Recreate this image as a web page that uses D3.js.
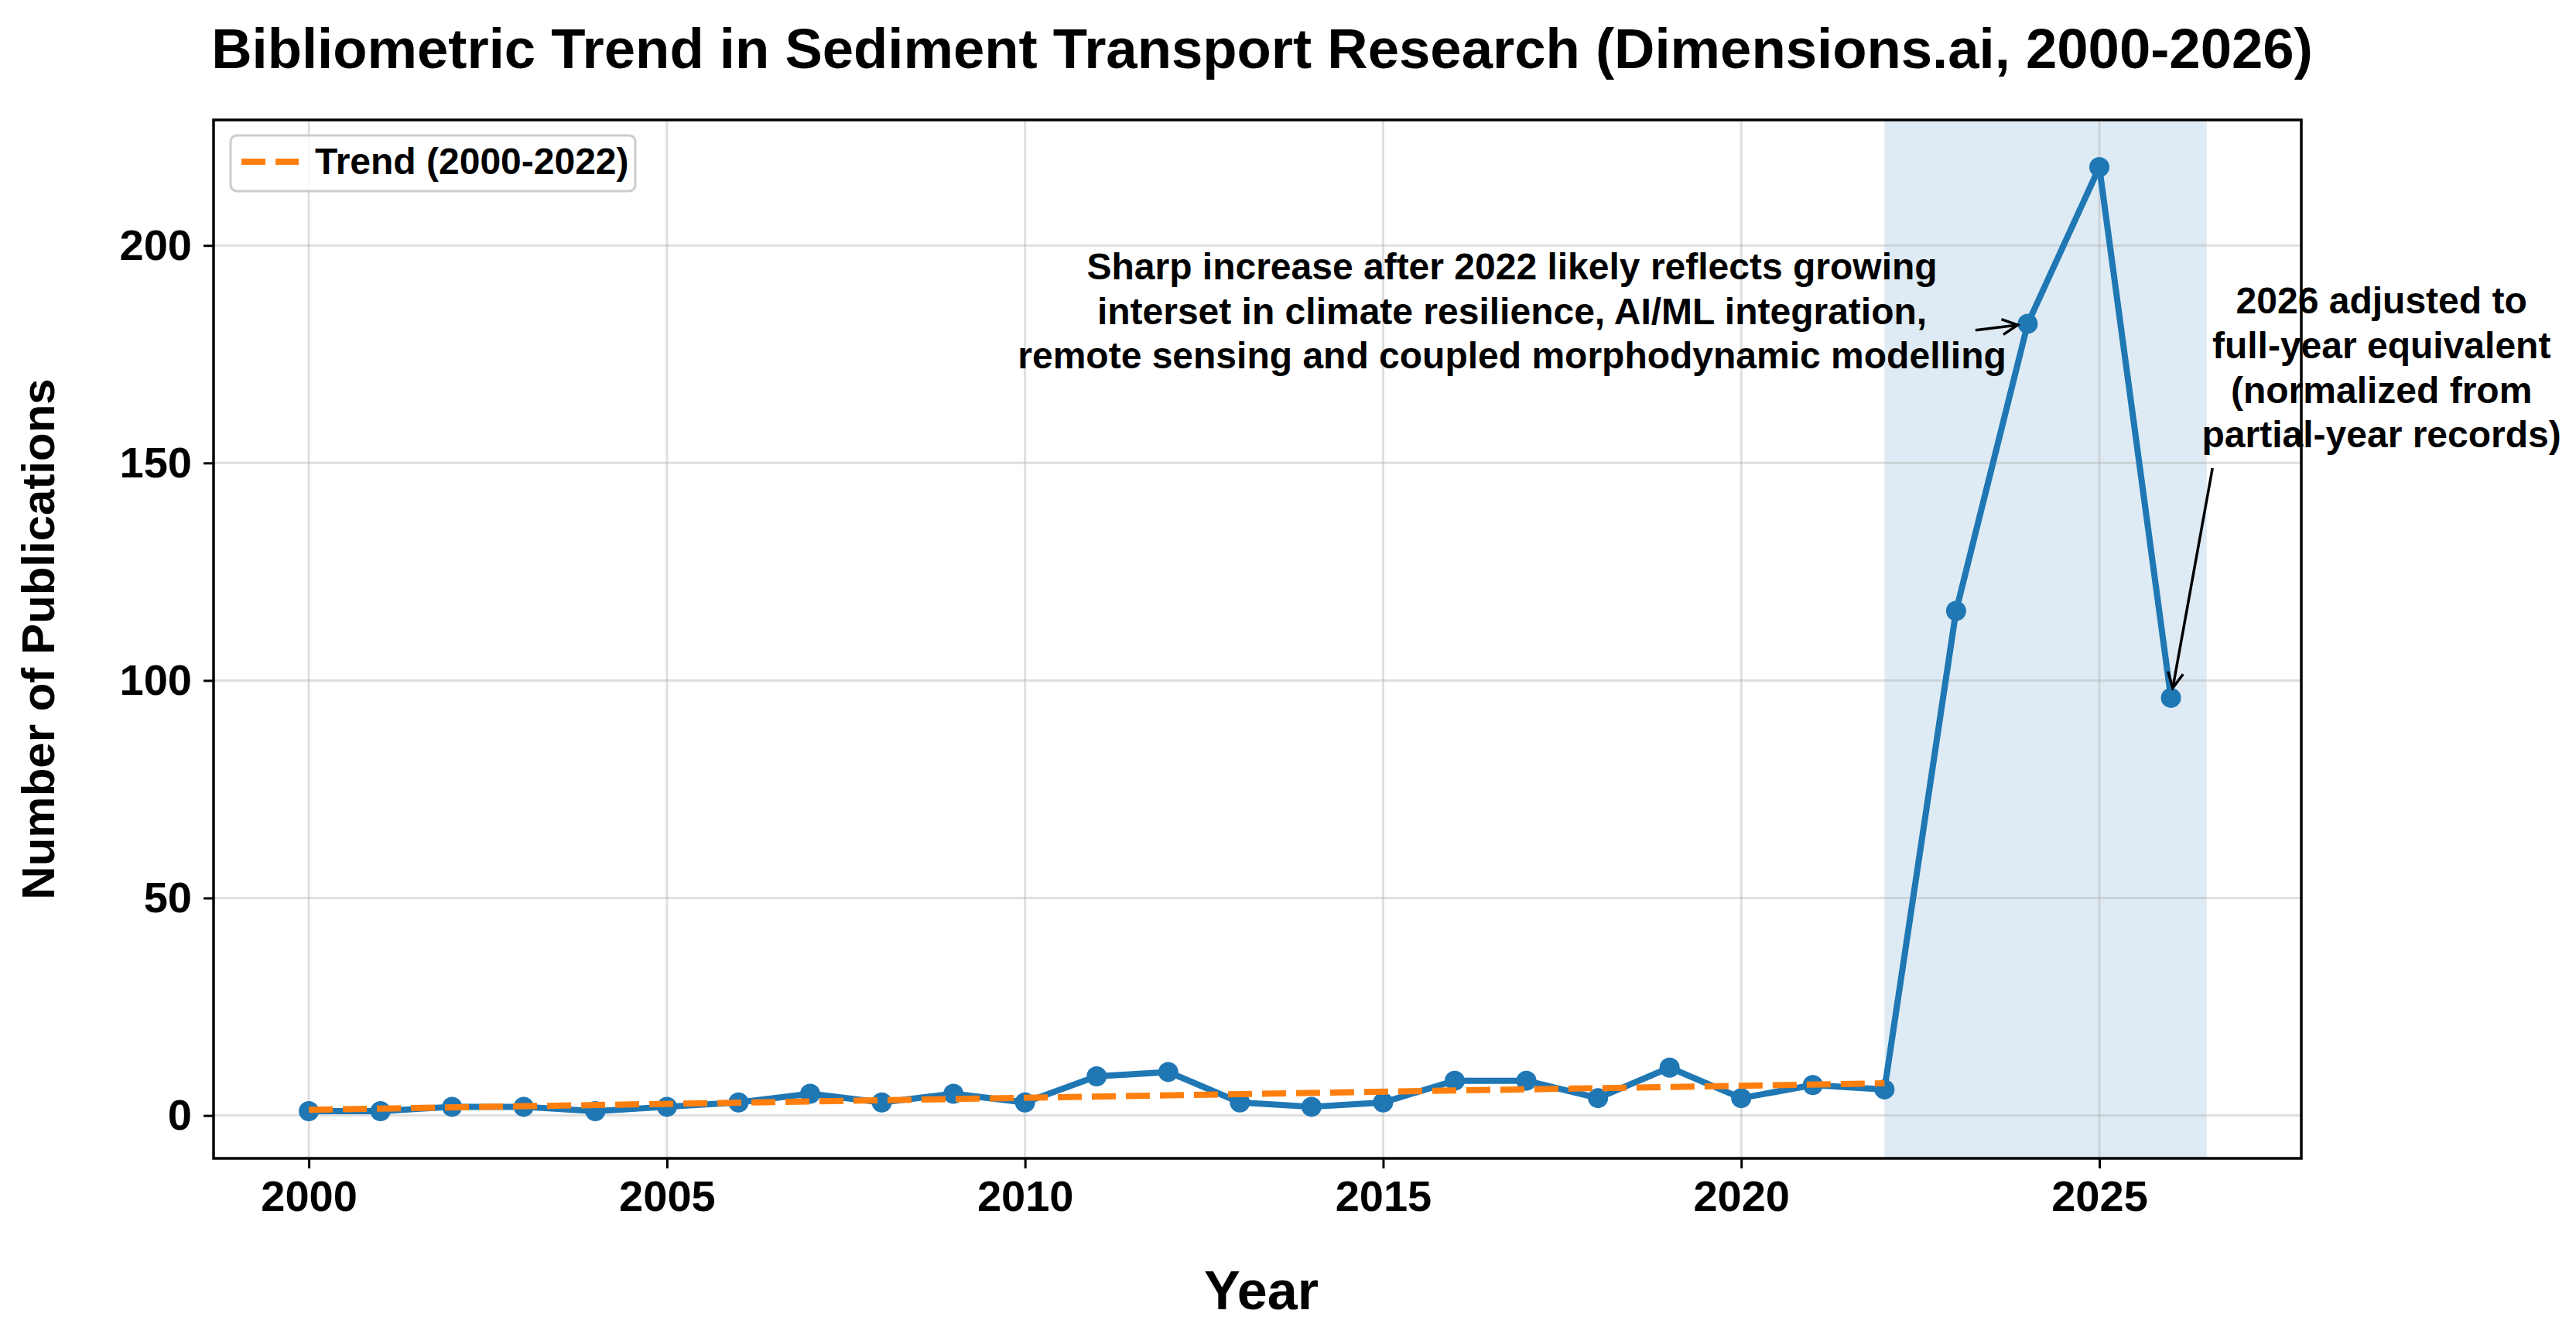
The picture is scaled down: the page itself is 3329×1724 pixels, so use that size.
<!DOCTYPE html>
<html>
<head>
<meta charset="utf-8">
<script src="https://cdn.jsdelivr.net/npm/d3@7"></script>
<style>
	body { margin: 0; background: #fff; }
	text { font-family: "Liberation Sans", Arial, sans-serif; font-weight: bold; fill: #000; }
</style>
</head>
<body>
<svg id="chart"></svg>
<script>
// data
const years = [2000, 2001, 2002, 2003, 2004, 2005, 2006, 2007, 2008, 2009, 2010, 2011, 2012, 2013,
	2014, 2015, 2016, 2017, 2018, 2019, 2020, 2021, 2022, 2023, 2024, 2025, 2026];
const publications = [1, 1, 2, 2, 1, 2, 3, 5, 3, 5, 3, 9, 10, 3,
	2, 3, 8, 8, 4, 11, 4, 7, 6, 116, 182, 218, 96];
const trendYears = [2000, 2022];
const trendValues = [1.3, 7.4];
const highlightSpan = [2022, 2026.5];
const xTickValues = [2000, 2005, 2010, 2015, 2020, 2025];
const yTickValues = [0, 50, 100, 150, 200];

const titleText = "Bibliometric Trend in Sediment Transport Research (Dimensions.ai, 2000-2026)";
const xLabel = "Year";
const yLabel = "Number of Publications";
const legendLabel = "Trend (2000-2022)";

const growthNote = [
	"Sharp increase after 2022 likely reflects growing",
	"interset in climate resilience, AI/ML integration,",
	"remote sensing and coupled morphodynamic modelling"
];
const growthNoteAt = [2016.8, 185];      // text centre (year, count)
const growthNoteTail = [2023.27, 180.5]; // arrow start
const growthNoteYear = 2024;

const fullYearNote = [
	"2026 adjusted to",
	"full-year equivalent",
	"(normalized from",
	"partial-year records)"
];
const fullYearNoteAt = [2028.94, 172];
const fullYearNoteTail = [2026.58, 148.8];
const fullYearNoteYear = 2026;

const W = 3329, H = 1724;
const plot = { left: 276, right: 2974, top: 155, bottom: 1497 };
const blue = "#1f77b4", orange = "#ff7f0e";

const svg = d3.select("#chart").attr("width", W).attr("height", H);
svg.append("rect").attr("width", W).attr("height", H).attr("fill", "#fff");

const x = d3.scaleLinear().domain([1998.67, 2027.82]).range([plot.left, plot.right]);
const y = d3.scaleLinear().domain([-9.85, 228.85]).range([plot.bottom, plot.top]);

// highlighted period
svg.append("rect")
	.attr("x", x(highlightSpan[0]))
	.attr("y", plot.top)
	.attr("width", x(highlightSpan[1]) - x(highlightSpan[0]))
	.attr("height", plot.bottom - plot.top)
	.attr("fill", blue)
	.attr("fill-opacity", 0.15);

// grid
const grid = svg.append("g").attr("stroke", "#b0b0b0").attr("stroke-opacity", 0.4).attr("stroke-width", 3);
xTickValues.forEach(v => {
	grid.append("line").attr("x1", x(v)).attr("x2", x(v)).attr("y1", plot.top).attr("y2", plot.bottom);
});
yTickValues.forEach(v => {
	grid.append("line").attr("x1", plot.left).attr("x2", plot.right).attr("y1", y(v)).attr("y2", y(v));
});

// publications line + markers
const series = years.map((yr, i) => ({ year: yr, count: publications[i] }));
const line = d3.line().x(d => x(d.year)).y(d => y(d.count));

svg.append("path")
	.datum(series)
	.attr("d", line)
	.attr("fill", "none")
	.attr("stroke", blue)
	.attr("stroke-width", 8)
	.attr("stroke-linejoin", "round");

svg.append("g").selectAll("circle")
	.data(series)
	.join("circle")
	.attr("cx", d => x(d.year))
	.attr("cy", d => y(d.count))
	.attr("r", 13)
	.attr("fill", blue);

// trend (drawn above the data line)
const trend = trendYears.map((yr, i) => ({ year: yr, count: trendValues[i] }));
svg.append("path")
	.datum(trend)
	.attr("d", line)
	.attr("fill", "none")
	.attr("stroke", orange)
	.attr("stroke-width", 8)
	.attr("stroke-dasharray", "31,13");

// axes
const xAxis = svg.append("g")
	.attr("transform", `translate(0,${plot.bottom})`)
	.call(d3.axisBottom(x).tickValues(xTickValues).tickFormat(d3.format("d")).tickSize(13).tickPadding(15));
const yAxis = svg.append("g")
	.attr("transform", `translate(${plot.left},0)`)
	.call(d3.axisLeft(y).tickValues(yTickValues).tickSize(13).tickPadding(15));

[xAxis, yAxis].forEach(a => {
	a.select(".domain").remove();
	a.selectAll(".tick line").attr("stroke", "#000").attr("stroke-width", 3);
	a.selectAll(".tick text")
		.attr("font-size", 56)
		.attr("font-family", "'Liberation Sans', Arial, sans-serif")
		.attr("font-weight", "bold")
		.attr("fill", "#000");
});

// frame
svg.append("rect")
	.attr("x", plot.left)
	.attr("y", plot.top)
	.attr("width", plot.right - plot.left)
	.attr("height", plot.bottom - plot.top)
	.attr("fill", "none")
	.attr("stroke", "#000")
	.attr("stroke-width", 3.5);

// titles
svg.append("text")
	.attr("x", (plot.left + plot.right) / 2 + 6)
	.attr("y", 88)
	.attr("text-anchor", "middle")
	.attr("font-size", 72.5)
	.text(titleText);

svg.append("text")
	.attr("x", (plot.left + plot.right) / 2 + 5)
	.attr("y", 1692)
	.attr("text-anchor", "middle")
	.attr("font-size", 70)
	.text(xLabel);

svg.append("text")
	.attr("transform", `translate(70,${(plot.top + plot.bottom) / 2}) rotate(-90)`)
	.attr("text-anchor", "middle")
	.attr("font-size", 60)
	.text(yLabel);

// annotations
function annotate(lines, at, tail, year) {
	const fs = 48, lh = fs * 1.2;
	const cx = x(at[0]), cy = y(at[1]);
	const t = svg.append("text")
		.attr("text-anchor", "middle")
		.attr("font-size", fs);
	lines.forEach((s, i) => {
		t.append("tspan")
			.attr("x", cx)
			.attr("y", cy + (i - (lines.length - 1) / 2) * lh + fs * 0.36)
			.text(s);
	});

	const count = publications[years.indexOf(year)];
	const px = x(year), py = y(count);
	const sx = x(tail[0]), sy = y(tail[1]);
	const len = Math.hypot(px - sx, py - sy);
	const ux = (px - sx) / len, uy = (py - sy) / len;
	const hx = px - ux * 13, hy = py - uy * 13;
	const g = svg.append("g").attr("stroke", "#000").attr("stroke-width", 3.5).attr("fill", "none");
	g.append("line").attr("x1", sx).attr("y1", sy).attr("x2", hx).attr("y2", hy);
	const hl = 20, hw = 10;
	g.append("path")
		.attr("d", `M${hx - ux * hl - uy * hw},${hy - uy * hl + ux * hw}L${hx},${hy}L${hx - ux * hl + uy * hw},${hy - uy * hl - ux * hw}`);
}

annotate(growthNote, growthNoteAt, growthNoteTail, growthNoteYear);
annotate(fullYearNote, fullYearNoteAt, fullYearNoteTail, fullYearNoteYear);

// legend
const legend = svg.append("g");
legend.append("rect")
	.attr("x", 298).attr("y", 175)
	.attr("width", 523).attr("height", 72)
	.attr("rx", 8)
	.attr("fill", "#fff").attr("fill-opacity", 0.8)
	.attr("stroke", "#cccccc").attr("stroke-width", 3);
legend.append("line")
	.attr("x1", 312).attr("x2", 386)
	.attr("y1", 209).attr("y2", 209)
	.attr("stroke", orange).attr("stroke-width", 8)
	.attr("stroke-dasharray", "31,13");
legend.append("text")
	.attr("x", 407).attr("y", 225)
	.attr("font-size", 48)
	.text(legendLabel);
</script>
</body>
</html>
